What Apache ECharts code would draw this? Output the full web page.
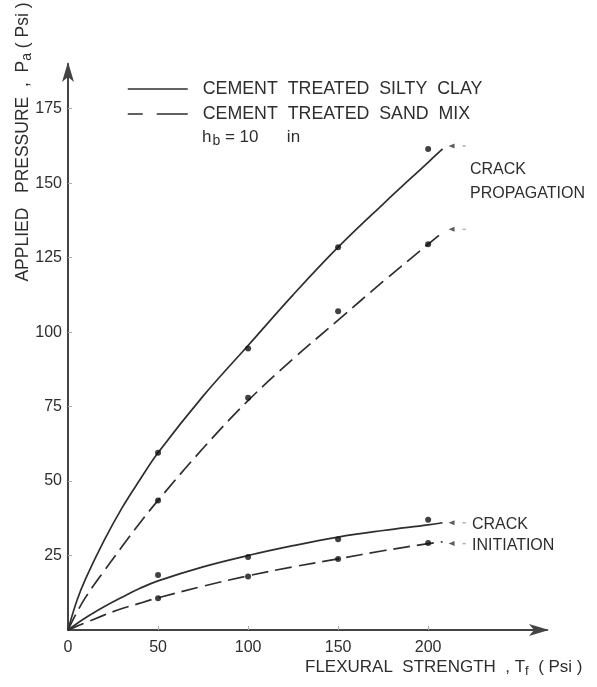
<!DOCTYPE html>
<html>
<head>
<meta charset="utf-8">
<script src="https://cdn.jsdelivr.net/npm/echarts@6/dist/echarts.min.js"></script>
<style>
  html, body { margin: 0; padding: 0; background: #fff; }
  #chart { width: 597px; height: 687px; }
</style>
</head>
<body>
<div id="chart"></div>
<script>
// Flexural strength T_f (psi) at which pressures were measured
const strengthTicks = [0, 50, 100, 150, 200];
const testStrength = [50, 100, 150, 200];

// Measured applied pressure P_a (psi)
const siltyPropagation = [59.5, 94.5, 128.5, 161.5];
const sandPropagation = [43.5, 78, 107, 129.5];
const siltyInitiation = [18.5, 24.5, 30.5, 37];
const sandInitiation = [10.7, 18, 23.8, 29.2];

// Fitted curves, sampled along T_f
const curveStrength = [0, 5, 10, 20, 30, 40, 50, 75, 100, 125, 150, 175, 200, 208];
const siltyPropCurve = [0, 10, 17.5, 30, 41, 50.5, 59.5, 78.5, 95.5, 112.5, 128.5, 143, 157, 161.5];
const sandPropCurve = [0, 6, 11.2, 19.8, 28, 36, 43.5, 61, 77, 91, 104, 117, 129.5, 133.5];
const siltyInitCurve = [0, 2.2, 4.2, 7.8, 11, 14, 16.5, 21.2, 25, 28.3, 31.2, 33.4, 35.3, 36];
const sandInitCurve = [0, 1.3, 2.5, 5, 7.2, 9, 10.8, 14.7, 18.2, 21.2, 23.9, 26.6, 29, 29.6];

// End-of-curve pointer marks
const pointerStrength = 213;
const pointerDotStrength = 220;
const pointerLevels = [162.5, 134.5, 36, 29];

const pressureTicks = [25, 50, 75, 100, 125, 150, 175];

const SILTY = 'CEMENT  TREATED  SILTY  CLAY';
const SAND = 'CEMENT  TREATED  SAND  MIX';
const INK = '#2e2e2e';
const FONT = 'Liberation Sans';
const sandDash = [17, 7];

const pair = (xs, ys) => xs.map((x, i) => [x, ys[i]]);

function curve(name, ys, dashed) {
  return {
    name, type: 'line', smooth: 0.4, symbol: 'none', silent: true,
    data: pair(curveStrength, ys),
    itemStyle: { color: INK },
    lineStyle: { color: INK, width: 1.7, type: dashed ? sandDash : 'solid' },
    z: 2
  };
}
function points(ys) {
  return {
    type: 'scatter', symbol: 'circle', symbolSize: 6, silent: true,
    data: pair(testStrength, ys),
    itemStyle: { color: '#111' }, z: 3
  };
}

const chart = echarts.init(document.getElementById('chart'), null, { renderer: 'canvas' });
chart.setOption({
  animation: false,
  backgroundColor: '#fff',
  grid: { left: 68, right: 50, top: 64, bottom: 57, containLabel: false },
  xAxis: {
    type: 'value', min: 0, max: 266, interval: 50,
    splitLine: { show: false },
    axisLine: { lineStyle: { color: '#444', width: 2 }, symbol: ['none', 'arrow'], symbolSize: [9, 20], symbolOffset: [0, 2] },
    axisTick: { inside: true, length: 4, lineStyle: { color: '#aaa' }, customValues: strengthTicks },
    axisLabel: { color: INK, fontFamily: FONT, fontSize: 16, margin: 10, customValues: strengthTicks }
  },
  yAxis: {
    type: 'value', min: 0, max: 190, interval: 25,
    splitLine: { show: false },
    axisLine: { lineStyle: { color: '#444', width: 2 }, symbol: ['none', 'arrow'], symbolSize: [9, 20], symbolOffset: [0, 2] },
    axisTick: { inside: true, length: 4, lineStyle: { color: '#aaa' }, customValues: pressureTicks },
    axisLabel: { color: INK, fontFamily: FONT, fontSize: 16, margin: 6, customValues: pressureTicks }
  },
  legend: {
    left: 122, top: 75, orient: 'vertical',
    itemWidth: 60, itemHeight: 14, itemGap: 7,
    selectedMode: false,
    itemStyle: { opacity: 0 },
    textStyle: { color: INK, fontFamily: FONT, fontSize: 17.8, padding: [0, 0, 0, 10] },
    data: [
      { name: SILTY, itemStyle: { opacity: 0 }, lineStyle: { type: 'solid', width: 1.5, color: INK } },
      { name: SAND, itemStyle: { opacity: 0 }, lineStyle: { type: [15, 14, 31, 0], width: 1.5, color: INK } }
    ]
  },
  series: [
    curve(SILTY, siltyPropCurve, false),
    curve(SAND, sandPropCurve, true),
    curve(SILTY, siltyInitCurve, false),
    curve(SAND, sandInitCurve, true),
    points(siltyPropagation),
    points(sandPropagation),
    points(siltyInitiation),
    points(sandInitiation),
    {
      type: 'scatter', symbol: 'triangle', symbolRotate: 90, symbolSize: [5, 6], silent: true,
      data: pointerLevels.map(v => [pointerStrength, v]),
      itemStyle: { color: '#333' }, z: 3
    },
    {
      type: 'scatter', symbol: 'rect', symbolSize: [3, 1.5], silent: true,
      data: pointerLevels.map(v => [pointerDotStrength, v]),
      itemStyle: { color: '#999' }, z: 3
    }
  ],
  graphic: [
    {
      type: 'text', x: 202, y: 137, silent: true,
      style: {
        text: 'h{sub|b} = 10      in', fill: INK, font: '17px ' + FONT,
        verticalAlign: 'middle',
        rich: { sub: { fontSize: 14, fontFamily: FONT, fill: INK, padding: [9, 0, 0, 1] } }
      }
    },
    {
      type: 'text', x: 470, y: 167, silent: true,
      style: { text: 'CRACK\nPROPAGATION', fill: INK, font: '16px ' + FONT, lineHeight: 24, verticalAlign: 'top', y: -9 }
    },
    {
      type: 'text', x: 472, y: 514, silent: true,
      style: { text: 'CRACK\nINITIATION', fill: INK, font: '16px ' + FONT, lineHeight: 21, verticalAlign: 'top' }
    },
    {
      type: 'text', x: 305, y: 667, silent: true,
      style: {
        text: 'FLEXURAL  STRENGTH  , T{sub|f}  ( Psi )', fill: INK, font: '17px ' + FONT,
        verticalAlign: 'middle',
        rich: { sub: { fontSize: 13, fontFamily: FONT, fill: INK, padding: [8, 0, 0, 0] } }
      }
    },
    {
      type: 'text', x: 23, y: 142, rotation: Math.PI / 2, silent: true,
      style: {
        text: 'APPLIED   PRESSURE  ,  P{sub|a} ( Psi )', fill: INK, font: '17.5px ' + FONT,
        align: 'center', verticalAlign: 'middle',
        rich: { sub: { fontSize: 14, fontFamily: FONT, fill: INK, padding: [9, 0, 0, 0] } }
      }
    }
  ]
});
</script>
</body>
</html>
